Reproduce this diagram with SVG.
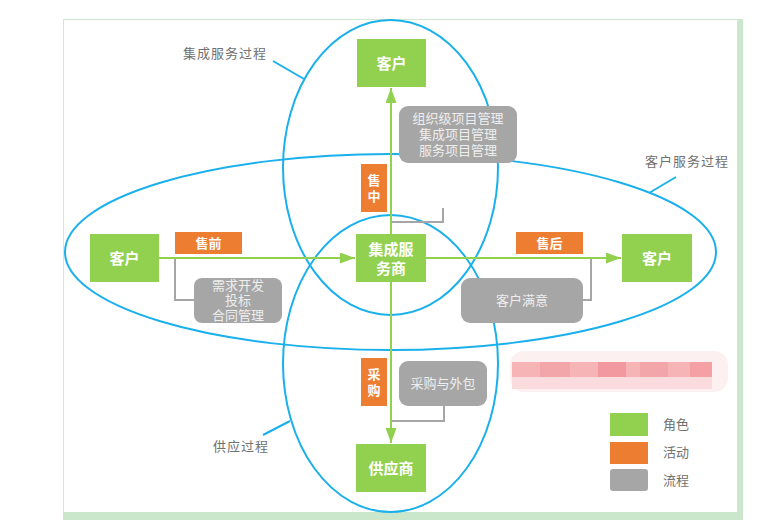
<svg xmlns="http://www.w3.org/2000/svg" width="761" height="520" viewBox="0 0 761 520">
<style>
.role{fill:#92d050}
.act{fill:#ed7d31}
.proc{fill:#a6a6a6}
.ell{fill:none;stroke:#1ab0ec;stroke-width:2}
.lead{stroke:#1ab0ec;stroke-width:2}
.flow{stroke:#92d050;stroke-width:2;fill:none}
.tie{stroke:#a6a6a6;stroke-width:2;fill:none}
text{font-family:"Liberation Sans","Noto Sans CJK SC",sans-serif;dominant-baseline:central;text-anchor:middle}
.rt{fill:#fff;font-size:15px;font-weight:bold}
.at{fill:#fff;font-size:13px;font-weight:bold}
.pt{fill:#eeeeee;font-size:13px}
.lab{fill:#707070;font-size:13px;text-anchor:start}
</style>
<defs>
<marker id="arr" markerUnits="userSpaceOnUse" markerWidth="15" markerHeight="11" refX="15" refY="5.5" orient="auto">
<path d="M0,0 L15,5.5 L0,11 z" fill="#92d050"/>
</marker>
</defs>
<rect x="0" y="0" width="761" height="520" fill="#fff"/>
<g id="frame">
<rect x="63.5" y="19.5" width="674" height="493" fill="none" stroke="#cfe9cf" stroke-width="1"/>
<rect x="737" y="19" width="6" height="501" fill="#cbe7cb"/>
<rect x="63" y="512" width="680" height="8" fill="#cbe7cb"/>
</g>
<g id="mosaic">
<rect x="510" y="351" width="218" height="41" rx="14" fill="#fdf0f1"/>
<rect x="512" y="362" width="200" height="15" fill="#f6b4b7"/>
<rect x="540" y="362" width="30" height="15" fill="#f3a6aa"/>
<rect x="598" y="362" width="28" height="15" fill="#f1999e"/>
<rect x="640" y="362" width="28" height="15" fill="#f3a6aa"/>
<rect x="690" y="362" width="22" height="15" fill="#f4a0a5"/>
<rect x="512" y="377" width="200" height="12" fill="#fadcde"/>
</g>
<g id="processes">
<ellipse class="ell" cx="390.5" cy="167.5" rx="107.5" ry="147.5"/>
<ellipse class="ell" cx="390.5" cy="363.5" rx="107.5" ry="148.5"/>
<ellipse class="ell" cx="390.5" cy="252" rx="325.5" ry="98"/>
<line class="lead" x1="273" y1="61" x2="304" y2="79"/>
<line class="lead" x1="676" y1="177" x2="649" y2="193"/>
<line class="lead" x1="263" y1="435" x2="290" y2="421"/>
<text class="lab" x="183" y="53" letter-spacing="1">集成服务过程</text>
<text class="lab" x="645" y="161" letter-spacing="1">客户服务过程</text>
<text class="lab" x="213" y="446" letter-spacing="1">供应过程</text>
</g>
<g id="connectors">
<line class="flow" x1="159" y1="258" x2="355" y2="258" marker-end="url(#arr)"/>
<line class="flow" x1="426" y1="258" x2="621" y2="258" marker-end="url(#arr)"/>
<line class="flow" x1="391" y1="234" x2="391" y2="88" marker-end="url(#arr)"/>
<line class="flow" x1="391" y1="282" x2="391" y2="443" marker-end="url(#arr)"/>
<polyline class="tie" points="175,259 175,300 194,300"/>
<polyline class="tie" points="392,222 443,222 443,208"/>
<polyline class="tie" points="591,259 591,300 583,300"/>
<polyline class="tie" points="392,421 444,421 444,406"/>
</g>
<g id="customer-top">
<rect class="role" x="357" y="39" width="69" height="48"/>
<text class="rt" x="391.5" y="63">客户</text>
</g>
<g id="customer-left">
<rect class="role" x="90" y="234" width="69" height="48"/>
<text class="rt" x="124.5" y="258">客户</text>
</g>
<g id="integrator">
<rect class="role" x="356" y="234" width="70" height="48"/>
<text class="rt" x="391" y="249">集成服</text>
<text class="rt" x="391" y="268">务商</text>
</g>
<g id="customer-right">
<rect class="role" x="622" y="234" width="70" height="48"/>
<text class="rt" x="657" y="258">客户</text>
</g>
<g id="supplier">
<rect class="role" x="356" y="444" width="70" height="48"/>
<text class="rt" x="391" y="468">供应商</text>
</g>
<g id="presale">
<rect class="act" x="175" y="232" width="67" height="22"/>
<text class="at" x="208.5" y="243">售前</text>
</g>
<g id="aftersale">
<rect class="act" x="516" y="232" width="67" height="22"/>
<text class="at" x="549.5" y="243">售后</text>
</g>
<g id="insale">
<rect class="act" x="361" y="164" width="26" height="48"/>
<text class="at" x="374" y="180">售</text>
<text class="at" x="374" y="196">中</text>
</g>
<g id="purchase">
<rect class="act" x="361" y="358" width="26" height="48"/>
<text class="at" x="374" y="374">采</text>
<text class="at" x="374" y="390">购</text>
</g>
<g id="pm-process">
<rect class="proc" x="399" y="106" width="118" height="57" rx="9"/>
<text class="pt" x="458" y="118">组织级项目管理</text>
<text class="pt" x="458" y="134">集成项目管理</text>
<text class="pt" x="458" y="150">服务项目管理</text>
</g>
<g id="presale-process">
<rect class="proc" x="194" y="278" width="88" height="45" rx="8"/>
<text class="pt" x="238" y="285">需求开发</text>
<text class="pt" x="238" y="300">投标</text>
<text class="pt" x="238" y="315">合同管理</text>
</g>
<g id="satisfaction-process">
<rect class="proc" x="461" y="278" width="122" height="45" rx="9"/>
<text class="pt" x="522" y="300">客户满意</text>
</g>
<g id="outsourcing-process">
<rect class="proc" x="399" y="361" width="88" height="45" rx="9"/>
<text class="pt" x="443" y="383">采购与外包</text>
</g>
<g id="legend">
<rect class="role" x="610" y="413" width="38" height="23"/>
<rect class="act" x="610" y="442" width="38" height="22"/>
<rect class="proc" x="610" y="469" width="38" height="22" rx="3"/>
<text class="lab" x="663" y="424">角色</text>
<text class="lab" x="663" y="452">活动</text>
<text class="lab" x="663" y="480">流程</text>
</g>
</svg>
